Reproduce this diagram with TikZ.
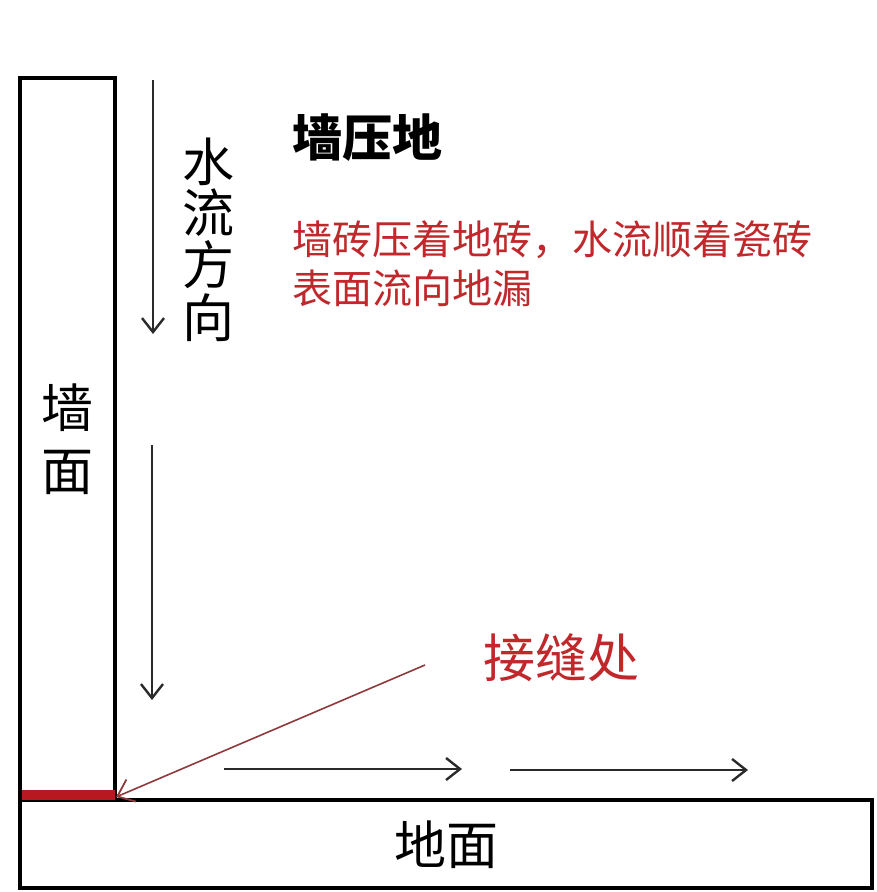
\documentclass[tikz,border=0pt]{standalone}
\usepackage{fontspec}
\newfontfamily\cjk{Noto Sans CJK SC}
\usetikzlibrary{arrows.meta}
\definecolor{tilered}{HTML}{C0282C}
\definecolor{barred}{HTML}{B81820}
\definecolor{pointred}{HTML}{8E3A3C}
\definecolor{arrowgray}{HTML}{2A2A2A}
\tikzset{
  box/.style={draw=black, line width=4.5pt},
  flow/.style={draw=arrowgray, line width=2.2pt, -{Straight Barb[length=14pt,width=22pt,line width=2.4pt]}},
  lbl/.style={font=\cjk\fontsize{52}{56}\selectfont, text=black, inner sep=0pt},
  redtxt/.style={font=\cjk\fontsize{40}{48}\selectfont, text=tilered, anchor=west, inner sep=0pt},
}
\begin{document}
\begin{tikzpicture}[x=1pt,y=-1pt]
\path[use as bounding box, fill=white] (0,0) rectangle (876,892);
% wall and floor
\draw[box] (20,78) rectangle (115,800);
\draw[box] (20,800) rectangle (872,888);
\fill[barred] (22,790) rectangle (115,800);
\node[lbl] (wall1) at (67,408) {墙};
\node[lbl] (wall2) at (67,472) {面};
\node[lbl] (floor) at (446,845) {地面};
% vertical flow text
\node[lbl] (v1) at (208,162) {水};
\node[lbl] (v2) at (208,213) {流};
\node[lbl] (v3) at (208,265) {方};
\node[lbl] (v4) at (208,318) {向};
% flow arrows
\coordinate (a1s) at (153,80);  \coordinate (a1e) at (153,334);
\coordinate (a2s) at (152,445); \coordinate (a2e) at (152,700);
\coordinate (h1s) at (224,769); \coordinate (h1e) at (462,769);
\coordinate (h2s) at (510,770); \coordinate (h2e) at (748,770);
\draw[flow] (a1s) -- (a1e);
\draw[flow] (a2s) -- (a2e);
\draw[flow] (h1s) -- (h1e);
\draw[flow] (h2s) -- (h2e);
% title and description
\node[font=\cjk\bfseries\fontsize{50}{54}\selectfont, anchor=west, inner sep=0pt] (title) at (292,138) {墙压地};
\node[redtxt] (desc1) at (292,240) {墙砖压着地砖，水流顺着瓷砖};
\node[redtxt] (desc2) at (292,288) {表面流向地漏};
% seam label
\node[font=\cjk\fontsize{52}{56}\selectfont, text=tilered, anchor=west, inner sep=0pt] (seam) at (483,658) {接缝处};
\coordinate (ps) at (425,665);
\coordinate (pe) at (116,797);
\draw[pointred, line width=1.6pt, -{Straight Barb[length=15pt,width=24pt,line width=1.8pt]}] (ps) -- (pe);
\end{tikzpicture}
\end{document}
